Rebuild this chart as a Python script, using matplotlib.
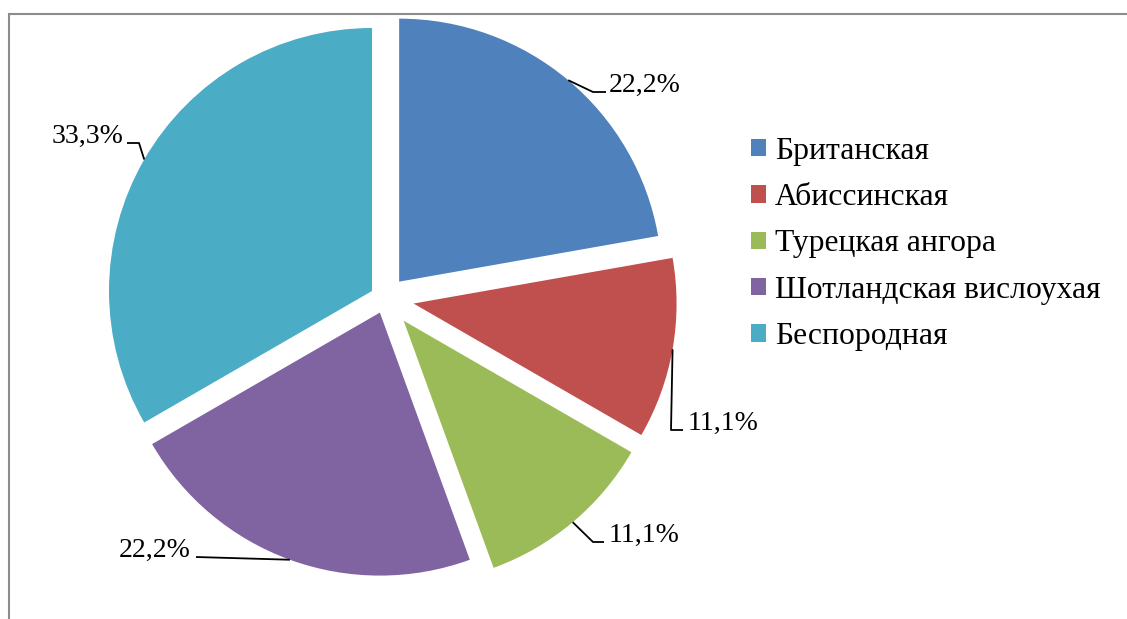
import math
import matplotlib
matplotlib.use("Agg")
import matplotlib.pyplot as plt

# cat breeds survey
breeds = ["Британская", "Абиссинская", "Турецкая ангора",
          "Шотландская вислоухая", "Беспородная"]
shares = [22.2, 11.1, 11.1, 22.2, 33.3]
colors = ["#4F81BD", "#C0504D", "#9BBB59", "#8064A2", "#4BACC6"]

W, H = 1127, 619
plt.rcParams['font.family'] = ['Liberation Serif', 'DejaVu Serif']

fig = plt.figure(figsize=(W / 100, H / 100), dpi=100)
ax = fig.add_axes([0, 0, 1, 1])

# pie in pixel units (y measured upwards)
explode = [22, 29, 29, 15, 15]
wedges, _ = ax.pie(shares, colors=colors, startangle=90, counterclock=False,
                   center=(385, H - 298.5), radius=263, explode=explode,
                   wedgeprops=dict(linewidth=0))

ax.set_xlim(0, W)
ax.set_ylim(0, H)
ax.set_aspect('equal')
ax.axis('off')

# label layout: elbow, end of leader, text anchor (pixels from top-left), ha
label_layout = [
    ((593, 92), (606, 92), (609, 92), 'left'),
    ((671, 430), (683, 430), (688, 430), 'left'),
    ((593, 542), (604, 542), (609, 542), 'left'),
    ((196, 557), (196, 557), (191, 557), 'right'),
    ((139, 143), (127, 143), (123, 143), 'right'),
]

for w, val, (elbow, end, txt, ha) in zip(wedges, shares, label_layout):
    mid = math.radians((w.theta1 + w.theta2) / 2)
    ax_ = w.center[0] + w.r * math.cos(mid)
    ay_ = w.center[1] + w.r * math.sin(mid)
    xs = [ax_, elbow[0], end[0]]
    ys = [ay_, H - elbow[1], H - end[1]]
    ax.plot(xs, ys, color='black', lw=1.3, solid_capstyle='butt')
    ax.text(txt[0], H - txt[1], f"{val:.1f}%".replace('.', ','),
            ha=ha, va='baseline', fontsize=20)

leg = ax.legend(wedges, breeds, loc='center left',
                bbox_to_anchor=(751 / W, (H - 244) / H),
                frameon=False, fontsize=22.8, handlelength=0.47,
                handleheight=0.47, handletextpad=0.28, labelspacing=0.55,
                borderpad=0, borderaxespad=0)

# outer chart border
ax.plot([9, 9, W], [0, H - 14, H - 14], color='#8C8C8C', lw=1.5,
        solid_joinstyle='miter')

plt.savefig("out.png", dpi=100)
